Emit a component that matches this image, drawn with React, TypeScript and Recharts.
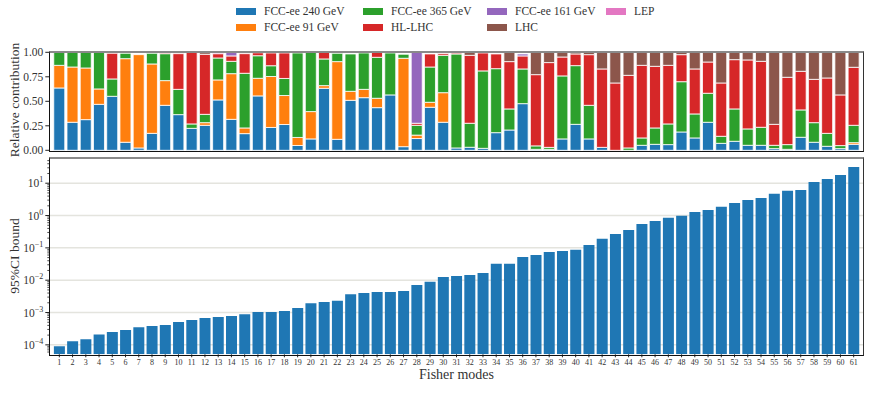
import { BarChart, Bar, XAxis, YAxis, CartesianGrid } from 'recharts';

const modes = Array.from({ length: 61 }, (_, i) => i + 1);

// relative contribution of each dataset to each Fisher mode
const fcc240 = [
  0.636, 0.286, 0.313, 0.469, 0.551, 0.082, 0.024, 0.173, 0.459, 0.364,
  0.224, 0.255, 0.514, 0.316, 0.17, 0.555, 0.233, 0.263, 0.049, 0.116,
  0.633, 0.112, 0.51, 0.537, 0.435, 0.565, 0.037, 0.12, 0.439, 0.286,
  0.024, 0.031, 0.02, 0.18, 0.207, 0.476, 0.01, 0.01, 0.116, 0.265,
  0.116, 0.03, 0, 0, 0.051, 0.061, 0.058, 0.187, 0.126, 0.286,
  0.071, 0.092, 0.051, 0.051, 0.017, 0.01, 0.133, 0.082, 0.041, 0.017,
  0.061,
];
const fcc91 = [
  0.231, 0.564, 0.527, 0.157, 0, 0.853, 0.952, 0.708, 0.252, 0,
  0, 0.027, 0.204, 0.466, 0.058, 0.18, 0.52, 0.296, 0.082, 0.279,
  0.027, 0.793, 0.092, 0.085, 0.096, 0, 0.902, 0.035, 0.051, 0.302,
  0, 0, 0, 0, 0, 0, 0, 0, 0, 0,
  0, 0, 0, 0, 0, 0, 0, 0, 0, 0,
  0, 0, 0, 0, 0, 0, 0, 0, 0, 0,
  0.017,
];
const fcc365 = [
  0.133, 0.15, 0.16, 0.374, 0.177, 0.055, 0, 0.109, 0.275, 0.258,
  0.045, 0.085, 0.224, 0.126, 0.558, 0.23, 0.11, 0.174, 0.862, 0.605,
  0.272, 0.085, 0.381, 0.371, 0.418, 0.428, 0.041, 0.1, 0.36, 0.381,
  0.959, 0.245, 0.79, 0.653, 0.215, 0.354, 0.035, 0.02, 0.643, 0.599,
  0.343, 0, 0, 0.024, 0.075, 0.167, 0.211, 0.513, 0.245, 0.296,
  0.072, 0.33, 0.167, 0.184, 0.034, 0.048, 0.279, 0.2, 0.132, 0.031,
  0.177,
];
const hllhc = [
  0, 0, 0, 0, 0.262, 0, 0, 0, 0.01, 0.364,
  0.731, 0.613, 0.044, 0.055, 0.2, 0.03, 0.13, 0.26, 0, 0,
  0.068, 0, 0, 0, 0.051, 0, 0, 0.021, 0.133, 0.017,
  0.01, 0.693, 0.183, 0.15, 0.483, 0.133, 0.727, 0.865, 0.193, 0.119,
  0.517, 0.8, 0.687, 0.741, 0.741, 0.629, 0.598, 0.276, 0.459, 0.319,
  0.544, 0.503, 0.704, 0.673, 0.214, 0.687, 0.394, 0.442, 0.565, 0.517,
  0.592,
];
const fcc161 = [
  0, 0, 0, 0, 0, 0, 0, 0, 0, 0,
  0, 0, 0, 0.037, 0, 0, 0, 0, 0, 0,
  0, 0, 0, 0, 0, 0, 0, 0.724, 0, 0,
  0, 0, 0, 0, 0, 0.02, 0, 0, 0, 0,
  0, 0, 0, 0, 0, 0, 0, 0, 0, 0,
  0, 0, 0, 0, 0, 0, 0, 0, 0, 0,
  0,
];
const lhc = [
  0, 0, 0, 0, 0, 0, 0, 0, 0, 0,
  0, 0.02, 0, 0, 0, 0, 0, 0, 0, 0,
  0, 0, 0, 0, 0, 0, 0, 0, 0, 0,
  0, 0.031, 0, 0, 0.095, 0, 0.228, 0.105, 0.048, 0.017,
  0.024, 0.17, 0.313, 0.235, 0.133, 0.143, 0.133, 0.024, 0.17, 0.099,
  0.313, 0.075, 0.078, 0.092, 0.735, 0.255, 0.194, 0.276, 0.262, 0.435,
  0.153,
];
const lep = [
  0, 0, 0, 0, 0, 0, 0, 0, 0, 0,
  0, 0, 0.014, 0, 0, 0, 0, 0, 0, 0,
  0, 0, 0, 0, 0, 0, 0, 0, 0, 0,
  0, 0, 0, 0, 0, 0, 0, 0, 0, 0,
  0, 0, 0, 0, 0, 0, 0, 0, 0, 0,
  0, 0, 0, 0, 0, 0, 0, 0, 0, 0,
  0,
];

// 95% CI bound per mode
const ciBound = [
  9.1e-5, 1.3e-4, 1.5e-4, 2.1e-4, 2.5e-4, 2.9e-4, 3.5e-4, 3.8e-4, 4.1e-4, 5.1e-4,
  5.9e-4, 6.8e-4, 7.3e-4, 7.8e-4, 8.9e-4, 1.04e-3, 1.04e-3, 1.12e-3, 1.38e-3, 1.95e-3,
  2.1e-3, 2.3e-3, 3.7e-3, 4.0e-3, 4.3e-3, 4.3e-3, 4.6e-3, 7.1e-3, 8.9e-3, 1.26e-2,
  1.35e-2, 1.45e-2, 1.66e-2, 3.2e-2, 3.2e-2, 5.2e-2, 6.0e-2, 7.4e-2, 8.0e-2, 8.7e-2,
  0.123, 0.19, 0.27, 0.36, 0.55, 0.68, 0.85, 0.98, 1.29, 1.48,
  1.86, 2.45, 3.0, 3.5, 4.7, 5.8, 6.2, 11, 13.5, 18,
  32,
];

const relTicks = [0, 0.25, 0.5, 0.75, 1];
const decadeTicks = [1e-4, 1e-3, 1e-2, 1e-1, 1, 10];
const decadeExp = ['\u22124', '\u22123', '\u22122', '\u22121', '0', '1'];
const minorMult = [2, 3, 4, 5, 6, 7, 8, 9];
const logDomain = [5.1e-5, 59];

const series = [
  { key: 'fcc240', name: 'FCC-ee 240 GeV', color: '#1f77b4', values: fcc240 },
  { key: 'fcc91', name: 'FCC-ee 91 GeV', color: '#ff7f0e', values: fcc91 },
  { key: 'fcc365', name: 'FCC-ee 365 GeV', color: '#2ca02c', values: fcc365 },
  { key: 'hllhc', name: 'HL-LHC', color: '#d62728', values: hllhc },
  { key: 'fcc161', name: 'FCC-ee 161 GeV', color: '#9467bd', values: fcc161 },
  { key: 'lhc', name: 'LHC', color: '#8c564b', values: lhc },
  { key: 'lep', name: 'LEP', color: '#e377c2', values: lep },
];

const stackData = modes.map((m, i) => {
  const row: Record<string, number> = { mode: m };
  series.forEach((s) => (row[s.key] = s.values[i]));
  return row;
});
const boundData = modes.map((m, i) => ({ mode: m, bound: ciBound[i] }));

const logTicks = [
  ...decadeTicks,
  ...[1e-5, ...decadeTicks].flatMap((d) => minorMult.map((k) => d * k)),
]
  .filter((v) => v >= logDomain[0] && v <= logDomain[1])
  .sort((a, b) => a - b);

const FONT = '"Liberation Serif", "DejaVu Serif", serif';
const TEXT = '#333';

// gridlines at the decades, placed with the same log mapping as the axis
const decadeGrid = (p: any) => {
  const off = p && p.offset;
  if (!off) return [];
  const lo = Math.log10(logDomain[0]);
  const hi = Math.log10(logDomain[1]);
  return decadeTicks.map((v) => off.top + (off.height * (hi - Math.log10(v))) / (hi - lo));
};

function LogTick(props: any) {
  const { x, y, payload } = props;
  const v = payload.value;
  const idx = decadeTicks.findIndex((d) => Math.abs(Math.log10(d) - Math.log10(v)) < 1e-6);
  if (idx < 0) {
    return <line x1={x - 2} x2={x} y1={y} y2={y} stroke="#222" strokeWidth={0.8} />;
  }
  return (
    <g>
      <line x1={x - 4} x2={x} y1={y} y2={y} stroke="#222" strokeWidth={1} />
      <text x={x - 6} y={y + 4} textAnchor="end" fontFamily={FONT} fontSize={11.5} fill={TEXT}>
        <tspan>10</tspan>
        <tspan dy={-5} fontSize={8}>{decadeExp[idx]}</tspan>
      </text>
    </g>
  );
}

const legendCols = [
  { left: 236, items: [0, 1] },
  { left: 363, items: [2, 3] },
  { left: 487, items: [4, 5] },
  { left: 606, items: [6] },
];

function Legend() {
  return (
    <>
      {legendCols.map((col) =>
        col.items.map((si, row) => (
          <div
            key={series[si].key}
            style={{
              position: 'absolute',
              left: col.left,
              top: 4 + row * 16,
              display: 'flex',
              alignItems: 'center',
              fontFamily: FONT,
              fontSize: 11.5,
              color: TEXT,
              whiteSpace: 'nowrap',
              lineHeight: '14px',
            }}
          >
            <span
              style={{
                display: 'inline-block',
                width: 20,
                height: 7,
                background: series[si].color,
                marginRight: 8,
              }}
            />
            {series[si].name}
          </div>
        ))
      )}
    </>
  );
}

function Frame({ top, height }: { top: number; height: number }) {
  return (
    <div
      style={{
        position: 'absolute',
        left: 49.3,
        top,
        width: 814.4,
        height,
        boxSizing: 'border-box',
        borderTop: '2px solid #8a8a8a',
        borderRight: '1px solid #333',
        borderBottom: '1.5px solid #111',
        borderLeft: '1.5px solid #111',
        pointerEvents: 'none',
      }}
    />
  );
}

const rotLabel = (text: string, top: number) => (
  <div
    style={{
      position: 'absolute',
      left: 15,
      top,
      transform: 'translate(-50%, -50%) rotate(-90deg)',
      fontFamily: FONT,
      fontSize: 13.5,
      color: TEXT,
      whiteSpace: 'nowrap',
    }}
  >
    {text}
  </div>
);

export default function App() {
  return (
    <div style={{ position: 'absolute', left: 0, top: 0, width: 871, height: 404, background: '#fff' }}>
      <Legend />

      <div style={{ position: 'absolute', left: 0, top: 0 }}>
        <BarChart
          width={871}
          height={160}
          data={stackData}
          margin={{ top: 52.3, right: 7.3, left: 9.3, bottom: 9.7 }}
          barCategoryGap="8%"
        >
          <XAxis dataKey="mode" hide padding={{ left: 3.4, right: 3.4 }} />
          <YAxis
            width={40}
            type="number"
            domain={[0, 1]}
            ticks={relTicks}
            interval={0}
            tickFormatter={(v: number) => v.toFixed(2)}
            tick={{ fontSize: 11.5, fill: TEXT, fontFamily: FONT }}
            tickSize={4}
            tickMargin={2}
            tickLine={{ stroke: '#222' }}
            axisLine={false}
          />
          {series.map((s) => (
            <Bar
              key={s.key}
              dataKey={s.key}
              stackId="rel"
              fill={s.color}
              stroke="#ffffff"
              strokeWidth={0.8}
              isAnimationActive={false}
            />
          ))}
        </BarChart>
      </div>

      <div style={{ position: 'absolute', left: 0, top: 0 }}>
        <BarChart
          width={871}
          height={404}
          data={boundData}
          margin={{ top: 158.3, right: 7.3, left: 9.3, bottom: 19.7 }}
          barCategoryGap="9%"
        >
          <CartesianGrid
            vertical={false}
            stroke="#e4e4de"
            strokeWidth={1.5}
            horizontalCoordinatesGenerator={decadeGrid}
          />
          <XAxis
            dataKey="mode"
            height={30}
            interval={0}
            padding={{ left: 3.4, right: 3.4 }}
            tick={{ fontSize: 8, fill: TEXT, fontFamily: FONT }}
            tickSize={3}
            tickMargin={2}
            tickLine={{ stroke: '#222' }}
            axisLine={false}
          />
          <YAxis
            width={40}
            type="number"
            scale="log"
            domain={logDomain}
            allowDataOverflow
            ticks={logTicks}
            interval={0}
            tick={<LogTick />}
            tickSize={0}
            tickMargin={0}
            tickLine={false}
            axisLine={false}
          />
          <Bar dataKey="bound" fill="#1f77b4" isAnimationActive={false} />
        </BarChart>
      </div>

      <Frame top={50.5} height={101} />
      <Frame top={157} height={198.5} />

      {rotLabel('Relative contribution', 100)}
      {rotLabel('95%CI bound', 256)}
      <div
        style={{
          position: 'absolute',
          left: 456.5,
          top: 367,
          transform: 'translateX(-50%)',
          fontFamily: FONT,
          fontSize: 14,
          color: TEXT,
          whiteSpace: 'nowrap',
        }}
      >
        Fisher modes
      </div>
    </div>
  );
}
